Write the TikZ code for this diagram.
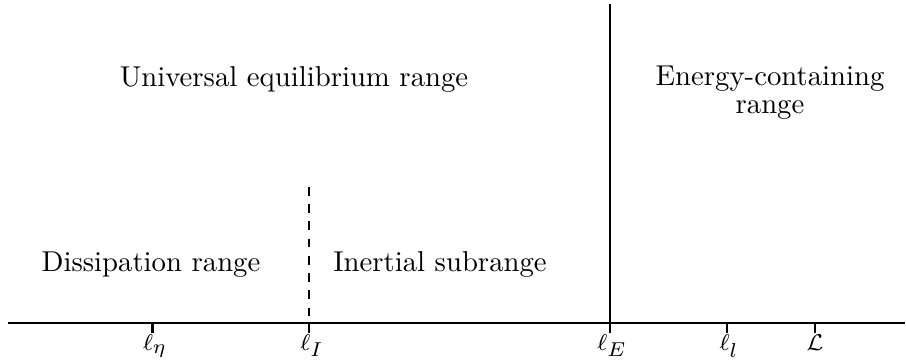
\documentclass[tikz,border=0pt]{standalone}
\DeclareMathSizes{8}{8}{7}{5}
\begin{document}
\begin{tikzpicture}[x=0.348pt,y=-0.348pt,
  axisline/.style={line width=0.95pt},
  divider/.style={line width=0.7pt},
  ticklbl/.style={anchor=base,inner sep=0pt,font=\fontsize{8}{9}\selectfont},
  rangetxt/.style={anchor=base,inner sep=0pt,align=center}]
\useasboundingbox (0,0) rectangle (906,360);
% axis
\coordinate (a0) at (8,323);
\coordinate (a1) at (905,323);
\draw[axisline] (a0) -- (a1);
% ticks
\foreach \n/\x in {eta/152.5,I/309.3,E/610,l/726.7,L/815}{
  \coordinate (t\n) at (\x,323);
  \coordinate (b\n) at (\x,333);
  \draw[divider] (t\n) -- (b\n);
}
% dividers
\coordinate (vtop) at (610,4);
\draw[divider] (vtop) -- (bE);
\coordinate (dtop) at (309.3,187);
\draw[divider,dashed] (dtop) -- (bI);
% tick labels
\node[ticklbl] (leta) at (155,351) {$\ell_\eta$};
\node[ticklbl] (lI) at (312,351) {$\ell_I$};
\node[ticklbl] (lE) at (612,351) {$\ell_E$};
\node[ticklbl] (ll) at (729,351) {$\ell_l$};
\node[ticklbl] (lL) at (815,351) {$\mathcal{L}$};
% range labels
\node[rangetxt] (uer) at (294,87) {Universal equilibrium range};
\node[rangetxt] (ecr) at (770,114) {Energy-containing\\[-2pt]range};
\node[rangetxt] (dr) at (151,272) {Dissipation range};
\node[rangetxt] (isr) at (440,272) {Inertial subrange};
\end{tikzpicture}
\end{document}
